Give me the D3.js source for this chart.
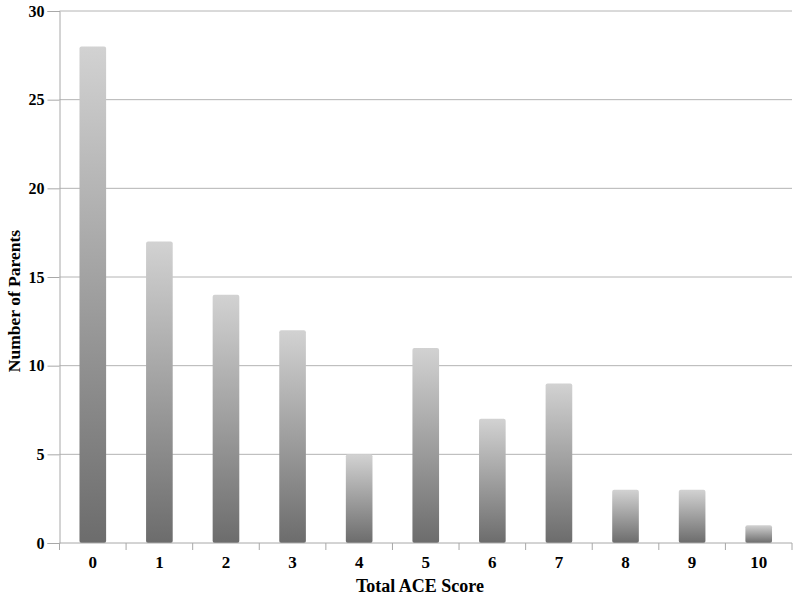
<!DOCTYPE html>
<html>
<head>
<meta charset="utf-8">
<script src="https://cdn.jsdelivr.net/npm/d3@7"></script>
<style>
  body { margin: 0; background: #fff; }
  text { font-family: "Liberation Serif", "Times New Roman", serif; font-weight: bold; }
</style>
</head>
<body>
<div id="chart"></div>
<script>
// data
const scores = ["0","1","2","3","4","5","6","7","8","9","10"];
const parents = [28, 17, 14, 12, 5, 11, 7, 9, 3, 3, 1];
const yTicks = [0, 5, 10, 15, 20, 25, 30];

const width = 800, height = 601;
const margin = {top: 11, right: 8, bottom: 58, left: 59.5};

const svg = d3.select("#chart").append("svg")
  .attr("width", width).attr("height", height);

// gradient per bar (light top, dark bottom)
const grad = svg.append("defs").append("linearGradient")
  .attr("id", "barGrad").attr("x1", 0).attr("y1", 0).attr("x2", 0).attr("y2", 1);
grad.append("stop").attr("offset", "0%").attr("stop-color", "#d2d2d2");
grad.append("stop").attr("offset", "100%").attr("stop-color", "#6c6c6c");

const x = d3.scaleBand().domain(scores)
  .range([margin.left, width - margin.right]).paddingInner(0.6).paddingOuter(0.3);
const y = d3.scaleLinear().domain([0, 30]).range([height - margin.bottom, margin.top]);

// grid
svg.append("g").selectAll("line").data(yTicks.slice(1)).join("line")
  .attr("x1", margin.left).attr("x2", width - margin.right)
  .attr("y1", d => y(d)).attr("y2", d => y(d))
  .attr("stroke", "#b4b4b4").attr("stroke-width", 1);

// y axis
const yAxis = svg.append("g").attr("transform", `translate(${margin.left},0)`)
  .call(d3.axisLeft(y).tickValues(yTicks).tickSize(12).tickPadding(3));
yAxis.select(".domain").attr("stroke", "#a8a8a8");
yAxis.selectAll(".tick line").attr("stroke", "#a8a8a8");
yAxis.selectAll("text").attr("font-size", 16).attr("fill", "#000")
  .attr("font-family", "Liberation Serif");

// bars
svg.append("g").selectAll("rect").data(parents).join("rect")
  .attr("x", (d, i) => x(scores[i]))
  .attr("y", d => y(d))
  .attr("width", x.bandwidth())
  .attr("height", d => y(0) - y(d))
  .attr("rx", 2)
  .attr("fill", "url(#barGrad)");

// x axis with ticks between categories
const xAxisG = svg.append("g");
xAxisG.append("line")
  .attr("x1", margin.left).attr("x2", width - margin.right)
  .attr("y1", y(0)).attr("y2", y(0)).attr("stroke", "#a8a8a8");
const step = x.step();
const edges = d3.range(scores.length + 1).map(i => margin.left + i * step);
xAxisG.selectAll(".sep").data(edges).join("line")
  .attr("x1", d => d).attr("x2", d => d)
  .attr("y1", y(0)).attr("y2", y(0) + 7).attr("stroke", "#a8a8a8");
xAxisG.selectAll("text").data(scores).join("text")
  .attr("x", d => x(d) + x.bandwidth() / 2)
  .attr("y", y(0) + 25)
  .attr("text-anchor", "middle").attr("font-size", 17)
  .text(d => d);

// axis titles
svg.append("text")
  .attr("x", 420).attr("y", 592)
  .attr("text-anchor", "middle").attr("font-size", 18)
  .text("Total ACE Score");
svg.append("text")
  .attr("transform", "translate(20,301) rotate(-90)")
  .attr("text-anchor", "middle").attr("font-size", 17.5)
  .text("Number of Parents");
</script>
</body>
</html>
